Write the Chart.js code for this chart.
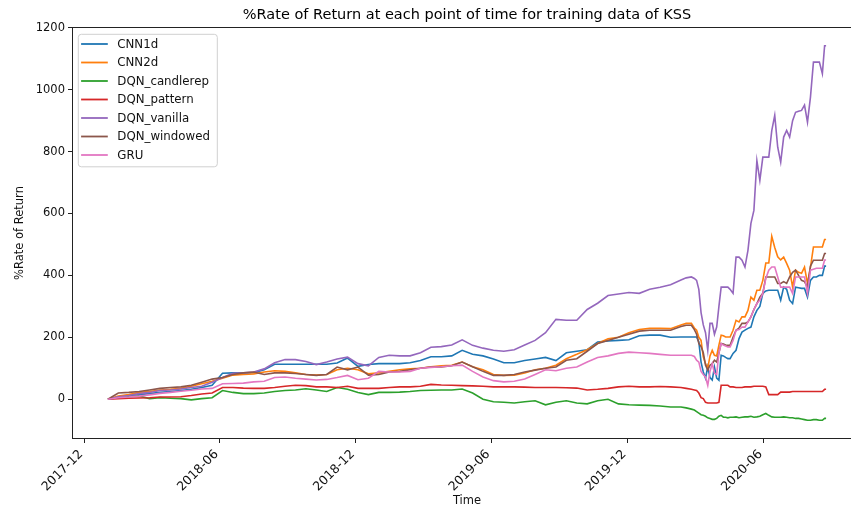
<!DOCTYPE html>
<html><head><meta charset="utf-8">
<script src="https://cdn.jsdelivr.net/npm/chart.js@4.4.1/dist/chart.umd.min.js"></script>
<style>html,body{margin:0;padding:0;background:#fff;overflow:hidden;} #wrap{width:866px;height:508px;}</style>
</head><body><div id="wrap"><canvas id="c" width="866" height="508" style="width:866px;height:508px"></canvas></div>
<script>
const dates = [
'2018-01-02','2018-01-16','2018-01-30','2018-02-13','2018-02-27','2018-03-13','2018-03-27','2018-04-10','2018-04-24','2018-05-08',
'2018-05-22','2018-06-05','2018-06-19','2018-07-03','2018-07-17','2018-07-31','2018-08-14','2018-08-28','2018-09-11','2018-09-25',
'2018-10-09','2018-10-23','2018-11-06','2018-11-20','2018-12-04','2018-12-18','2019-01-01','2019-01-15','2019-01-29','2019-02-12',
'2019-02-26','2019-03-12','2019-03-26','2019-04-09','2019-04-23','2019-05-07','2019-05-21','2019-06-04','2019-06-18','2019-07-02',
'2019-07-16','2019-07-30','2019-08-13','2019-08-27','2019-09-10','2019-09-24','2019-10-08','2019-10-22','2019-11-05','2019-11-19',
'2019-12-03','2019-12-17','2019-12-31','2020-01-14','2020-01-28','2020-02-11','2020-02-18','2020-02-25','2020-02-29','2020-03-03',
'2020-03-06','2020-03-09','2020-03-12','2020-03-15','2020-03-18','2020-03-21','2020-03-24','2020-03-27','2020-03-30','2020-04-02',
'2020-04-05','2020-04-08','2020-04-11','2020-04-14','2020-04-17','2020-04-21','2020-04-25','2020-04-29','2020-05-03','2020-05-07',
'2020-05-11','2020-05-15','2020-05-19','2020-05-23','2020-05-27','2020-05-31','2020-06-04','2020-06-08','2020-06-12','2020-06-16',
'2020-06-20','2020-06-24','2020-06-28','2020-07-02','2020-07-06','2020-07-10','2020-07-14','2020-07-18','2020-07-22','2020-07-26',
'2020-07-30','2020-08-03','2020-08-07','2020-08-11','2020-08-15','2020-08-19','2020-08-22','2020-08-24'];

const CNN1d = [
0,8,12,15,18,22,25,28,32,38,
45,84,85,85,86,95,113,113,113,113,
113,113,117,133,106,112,115,115,115,118,
125,137,137,140,158,145,140,130,118,118,
125,130,135,125,150,155,160,185,188,190,
192,205,207,207,200,201,201,201,201,201,
185,120,88,68,105,70,62,104,68,61,
142,140,135,131,131,148,158,196,217,223,
229,233,266,287,300,342,350,352,352,352,
352,320,362,355,320,309,362,360,358,358,
330,384,395,395,400,400,430,430];

const CNN2d = [
0,10,15,22,25,30,32,35,42,50,
58,68,78,80,82,88,92,90,85,80,
78,80,95,100,95,82,85,90,95,98,
100,105,108,110,120,105,95,80,77,78,
85,95,100,110,131,145,160,180,195,200,
215,225,229,229,228,240,245,245,230,223,
200,190,137,115,100,140,158,142,140,175,
207,205,201,201,201,223,255,250,266,266,
287,330,320,352,352,384,440,440,526,490,
460,450,459,439,417,362,417,410,407,427,
374,427,492,492,492,492,516,516];

const DQN_candlerep = [
0,5,8,10,2,5,3,2,-2,2,
5,28,22,18,18,20,25,28,30,34,
30,25,38,32,22,15,22,22,23,25,
28,29,30,30,33,20,0,-8,-10,-12,
-8,-5,-18,-10,-5,-12,-15,-5,0,-15,
-18,-19,-20,-22,-25,-25,-28,-32,-35,-40,
-45,-50,-52,-55,-60,-62,-65,-65,-62,-55,
-52,-58,-58,-60,-58,-58,-57,-60,-58,-57,
-57,-55,-58,-57,-55,-50,-46,-52,-57,-58,
-58,-58,-57,-58,-60,-60,-62,-62,-64,-66,
-68,-68,-66,-66,-68,-68,-62,-62];

const DQN_pattern = [
0,2,3,4,5,7,7,8,12,17,
20,38,38,36,35,35,38,42,45,44,
40,40,38,42,35,35,35,38,40,40,
42,48,46,45,44,43,42,40,40,40,
39,38,38,38,37,36,30,32,35,40,
42,40,40,41,40,38,35,32,30,28,
20,5,2,-10,-12,-12,-12,-12,-12,-10,
45,45,45,45,40,40,38,38,38,40,
40,40,42,42,42,42,40,15,15,15,
15,23,23,23,23,25,25,25,25,25,
25,25,25,25,25,25,32,32];

const DQN_vanilla = [
0,8,12,18,22,28,30,33,38,42,
55,70,84,85,88,98,118,128,128,122,
112,120,130,136,115,108,135,142,140,140,
150,168,170,175,192,174,165,158,155,160,
175,190,215,258,255,255,290,310,335,340,
345,342,355,362,370,385,392,395,390,384,
355,280,240,215,158,245,245,210,233,300,
362,362,362,362,355,342,459,459,449,427,
481,568,610,771,707,782,782,782,868,917,
814,766,847,868,847,900,927,930,933,950,
895,976,1089,1089,1089,1052,1142,1142];

const DQN_windowed = [
0,20,22,25,30,35,38,40,45,55,
65,70,80,85,88,80,85,85,83,80,
77,80,104,95,104,78,80,88,90,95,
100,104,104,108,120,105,90,77,77,80,
88,94,100,104,126,131,155,180,190,200,
210,220,223,223,223,235,239,239,225,210,
180,170,150,110,94,110,115,126,120,150,
180,178,175,174,174,200,223,230,245,245,
250,266,290,309,330,342,395,395,395,395,
374,374,380,374,395,410,417,400,384,380,
362,430,449,449,449,449,471,471];

const GRU = [
0,5,7,10,14,19,22,26,29,33,
35,50,51,52,56,58,70,72,68,65,
62,64,70,77,63,68,90,88,88,90,
100,103,105,108,110,90,72,60,56,58,
65,80,95,92,100,104,120,135,140,148,
152,150,148,145,142,142,142,142,138,126,
120,90,80,72,45,90,115,84,80,150,
180,175,172,169,169,190,223,225,233,233,
250,266,290,309,320,342,390,417,427,427,
395,362,362,362,362,342,395,395,395,395,
342,417,420,423,423,423,450,450];

const seriesNames = ['CNN1d','CNN2d','DQN_candlerep','DQN_pattern','DQN_vanilla','DQN_windowed','GRU'];
const seriesValues = [CNN1d, CNN2d, DQN_candlerep, DQN_pattern, DQN_vanilla, DQN_windowed, GRU];
const seriesColors = ['#1f77b4','#ff7f0e','#2ca02c','#d62728','#9467bd','#8c564b','#e377c2'];
const xTickDates = ['2017-12-01','2018-06-01','2018-12-01','2019-06-01','2019-12-01','2020-06-01'];
const xTickLabels = ['2017-12','2018-06','2018-12','2019-06','2019-12','2020-06'];
const yTickValues = [0,200,400,600,800,1000,1200];
const titleText = '%Rate of Return at each point of time for training data of KSS';
const xTitle = 'Time';
const yTitle = '%Rate of Return';

const DAY = 86400000;
const toDay = s => { const p = s.split('-').map(Number); return Date.UTC(p[0], p[1]-1, p[2]) / DAY; };
const xs = dates.map(toDay);

const xMinD = Math.min(...xs), xMaxD = Math.max(...xs);
const allY = seriesValues.flat();
const yMinD = Math.min(...allY), yMaxD = Math.max(...allY);
const xSpan = xMaxD - xMinD, ySpan = yMaxD - yMinD;

const FONT = 'DejaVu Sans';
Chart.defaults.font.family = FONT;
Chart.defaults.font.size = 11.5;
Chart.defaults.color = '#111';

const frame = {
  id: 'frame',
  afterDatasetsDraw(chart) {
    const a = chart.chartArea, ctx = chart.ctx;
    ctx.save();
    ctx.strokeStyle = '#222';
    ctx.lineWidth = 1;
    ctx.strokeRect(Math.round(a.left) + 0.5, Math.round(a.top) + 0.5, Math.round(a.right - a.left) - 1, Math.round(a.bottom - a.top) - 1);
    ctx.restore();
  }
};

const mplLegend = {
  id: 'mplLegend',
  afterDraw(chart) {
    const a = chart.chartArea, ctx = chart.ctx;
    const bx = a.left + 6.3, by = a.top + 7.3, bw = 139, rowH = 18.5;
    const bh = 132.5, r = 3;
    ctx.save();
    ctx.beginPath();
    ctx.moveTo(bx + r, by);
    ctx.arcTo(bx + bw, by, bx + bw, by + bh, r);
    ctx.arcTo(bx + bw, by + bh, bx, by + bh, r);
    ctx.arcTo(bx, by + bh, bx, by, r);
    ctx.arcTo(bx, by, bx + bw, by, r);
    ctx.closePath();
    ctx.fillStyle = 'rgba(255,255,255,0.8)';
    ctx.fill();
    ctx.strokeStyle = '#d0d0d0';
    ctx.lineWidth = 1;
    ctx.stroke();
    ctx.font = '11.8px "' + FONT + '"';
    ctx.textBaseline = 'middle';
    ctx.textAlign = 'left';
    seriesNames.forEach((name, i) => {
      const y = by + 9.7 + i * rowH;
      ctx.beginPath();
      ctx.moveTo(bx + 2.8, y);
      ctx.lineTo(bx + 29.5, y);
      ctx.strokeStyle = seriesColors[i];
      ctx.lineWidth = 1.8;
      ctx.stroke();
      ctx.fillStyle = '#111';
      ctx.fillText(name, bx + 39, y + 0.5);
    });
    ctx.restore();
  }
};

new Chart(document.getElementById('c'), {
  type: 'line',
  data: {
    datasets: seriesValues.map((vals, i) => ({
      label: seriesNames[i],
      data: xs.map((x, j) => ({x: x, y: vals[j]})),
      borderColor: seriesColors[i],
      backgroundColor: seriesColors[i],
      borderWidth: 1.6,
      pointRadius: 0,
      tension: 0,
      fill: false,
      order: seriesNames.length - 1 - i
    }))
  },
  options: {
    responsive: false,
    animation: false,
    devicePixelRatio: 1,
    layout: {padding: {left: 0, right: 4, top: 0, bottom: 0}},
    plugins: {
      legend: {display: false},
      tooltip: {enabled: false},
      title: {
        display: true,
        fullSize: false,
        text: titleText,
        font: {family: FONT, size: 14.5, weight: 'normal'},
        color: '#000',
        padding: {top: 6.3, bottom: 3.3}
      }
    },
    scales: {
      x: {
        type: 'linear',
        min: xMinD - 0.05 * xSpan,
        max: xMaxD + 0.05 * xSpan,
        grid: {display: true, drawOnChartArea: false, drawTicks: true, tickLength: 4, color: '#222', lineWidth: 1},
        border: {display: false},
        afterBuildTicks: s => { s.ticks = xTickDates.map(d => ({value: toDay(d)})); },
        afterFit: s => { s.height = 69; },
        ticks: {
          autoSkip: false, maxRotation: 45, minRotation: 45, padding: 4, labelOffset: -3,
          color: '#111', font: {size: 12.5},
          callback: (v, i) => xTickLabels[i]
        },
        title: {display: true, text: xTitle, color: '#111', font: {size: 11.5}, padding: {top: 0, bottom: 0}}
      },
      y: {
        type: 'linear',
        min: yMinD - 0.05 * ySpan,
        max: yMaxD + 0.05 * ySpan,
        grid: {display: true, drawOnChartArea: false, drawTicks: true, tickLength: 4, color: '#222', lineWidth: 1},
        border: {display: false},
        afterBuildTicks: s => { s.ticks = yTickValues.map(v => ({value: v})); },
        afterFit: s => { s.width = 72; },
        ticks: {padding: 3, color: '#111', font: {size: 11.5}, callback: v => String(v)},
        title: {display: true, text: yTitle, color: '#111', font: {size: 11.5}, padding: {top: 13, bottom: 0}}
      }
    }
  },
  plugins: [frame, mplLegend]
});
</script>
</body></html>
